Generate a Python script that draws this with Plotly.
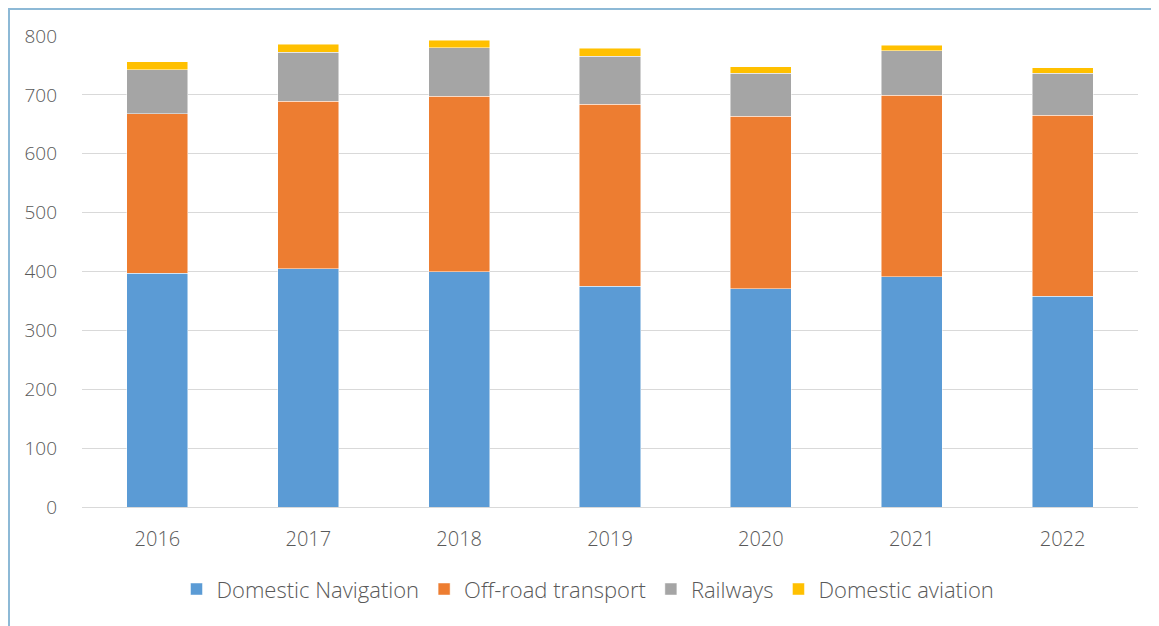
import plotly.graph_objects as go

years = ["2016", "2017", "2018", "2019", "2020", "2021", "2022"]
domestic_navigation = [397, 405, 400, 375, 371, 391, 358]
off_road_transport = [271, 284, 298, 309, 293, 308, 307]
railways = [75, 83, 82, 82, 73, 76, 72]
domestic_aviation = [13, 14, 13, 13, 11, 9, 9]
y_ticks = [0, 100, 200, 300, 400, 500, 600, 700, 800]

series = [
    ("Domestic Navigation", domestic_navigation, "#5B9BD5"),
    ("Off-road transport", off_road_transport, "#ED7D31"),
    ("Railways", railways, "#A5A5A5"),
    ("Domestic aviation", domestic_aviation, "#FFC000"),
]

fig = go.Figure()
for name, vals, color in series:
    fig.add_trace(go.Bar(
        x=years, y=vals, name=name,
        marker=dict(color=color, line=dict(color="rgba(255,255,255,0.6)", width=0.8)),
    ))

PW, PH = 1056, 471
font_family = "Open Sans"
fig.update_layout(
    barmode="stack",
    bargap=0.595,
    width=1159, height=626,
    margin=dict(l=74, r=29, t=28, b=127),
    paper_bgcolor="white",
    plot_bgcolor="white",
    font=dict(family=font_family, color="#595959", size=19, weight=300),
    xaxis=dict(
        showgrid=False, showline=False, ticks="",
        ticklabelstandoff=18,
        tickfont=dict(size=20, color="#595959", weight=300),
    ),
    yaxis=dict(
        range=[0, 800], tickvals=y_ticks,
        showgrid=True, gridcolor="#D9D9D9", gridwidth=1,
        zeroline=True, zerolinecolor="#D9D9D9", zerolinewidth=1,
        showline=False, ticks="", ticklabelstandoff=24,
        tickfont=dict(size=19, color="#595959", weight=300),
    ),
    legend=dict(
        orientation="h", x=0.5 - 22/PW, xanchor="center", y=-0.13, yanchor="top",
        font=dict(size=22, color="#595959", weight=300),
        itemwidth=30, traceorder="normal",
    ),
    shapes=[
        dict(type="line", xref="paper", yref="paper", layer="above",
             x0=-73/PW, x1=-73/PW, y0=1 + 27/PH, y1=-130/PH,
             line=dict(color="#8DB9D6", width=2)),
        dict(type="line", xref="paper", yref="paper", layer="above",
             x0=-74/PW, x1=1 + 35/PW, y0=1 + 27/PH, y1=1 + 27/PH,
             line=dict(color="#8DB9D6", width=2)),
    ],
)

fig.write_html("out.html")
